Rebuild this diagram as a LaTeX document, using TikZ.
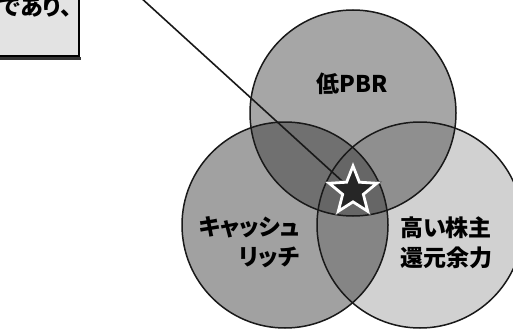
\documentclass[tikz,border=0pt]{standalone}
\usepackage{fontspec}
\setmainfont{Noto Sans CJK JP}[RawFeature=+palt]
\usetikzlibrary{shapes.geometric}

\definecolor{pbrgray}{gray}{0.65}
\definecolor{cashgray}{gray}{0.63}
\definecolor{retgray}{gray}{0.82}

\begin{document}
\begin{tikzpicture}[
                x=1pt, y=-1pt,
                every node/.style={font=\fontsize{23}{30}\selectfont\bfseries, inner sep=0pt},
                setcircle/.style={circle, minimum size=206pt, line width=1.5pt},
                memobox/.style={rectangle, draw=black, line width=2pt, fill=gray!22},
                linkline/.style={line width=1.6pt, draw=black!90},
                starmark/.style={star, star points=5, star point ratio=2.3, minimum size=50pt,
                    preaction={draw=black!60, line width=4.2pt},
                    fill=black!85, draw=white, line width=2.8pt}
            ]
                \useasboundingbox (0,0) rectangle (513,329);
                \clip (0,0) rectangle (513,329);

                % 説明の枠（一部のみ）
                \fill[black!80] (-20,57) rectangle (81,60);
                \node[memobox, minimum width=110pt, minimum height=90pt, anchor=south east] (memo) at (80,57) {};
                \node[anchor=east] (memotext) at (72,7) {であり、};

                % 三つの円
                \node[setcircle, fill=pbrgray] (pbr) at (353,113) {};
                \node[setcircle, fill=cashgray] (cash) at (285,225) {};
                \node[setcircle, fill=retgray] (ret) at (420,225) {};

                % 重なり
                \begin{scope}
                    \clip (353,113) circle (103);
                    \fill[black!56] (285,225) circle (103);
                    \fill[black!44] (420,225) circle (103);
                \end{scope}
                \begin{scope}
                    \clip (285,225) circle (103);
                    \fill[black!48] (420,225) circle (103);
                    \clip (420,225) circle (103);
                    \fill[black!60] (353,113) circle (103);
                \end{scope}

                % 円の輪郭
                \node[setcircle, draw=black!90] at (pbr) {};
                \node[setcircle, draw=black!90] at (cash) {};
                \node[setcircle, draw=black!90] at (ret) {};

                % 引き出し線と星
                \coordinate (callout) at (128,-14);
                \coordinate (starpt) at (353,191);
                \draw[linkline] (callout) -- (starpt);
                \node[starmark] (mark) at (starpt) {};

                % ラベル
                \node (pbrlabel) at (352,84) {低PBR};
                \node[align=right, anchor=east] (cashlabel) at (300,242) {キャッシュ\\リッチ};
                \node[align=left, anchor=west] (retlabel) at (400,243) {高い株主\\還元余力};
            \end{tikzpicture}
\end{document}
